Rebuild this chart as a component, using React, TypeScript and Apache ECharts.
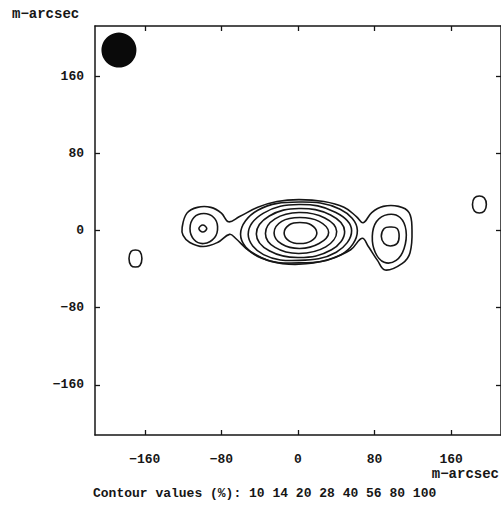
import React, { useEffect, useRef } from "react";
import * as echarts from "echarts";

type P = [number, number];

const xTickValues = [-160, -80, 0, 80, 160];
const yTickValues = [-160, -80, 0, 80, 160];
const contourLevels = [10, 14, 20, 28, 40, 56, 80, 100];

// 10% contour enclosing all three components (closed polygon)
const outer10: P[] = [
  [-121, 3], [-116, 18], [-105, 24], [-91, 24], [-80, 18], [-72.5, 9], [-61, 14.5], [-42, 24],
  [-22, 30], [1, 32], [27, 30], [48, 24], [61, 14.5], [68, 8], [77, 18.6], [89, 25],
  [105, 25], [116, 18.6], [119, 2], [117, -23], [109, -34], [91, -41], [83, -31], [73.5, -16.6],
  [67, -8], [55, -20], [32, -30], [1, -35], [-28, -32], [-51, -21], [-65, -8.3], [-71.5, -4],
  [-84, -12.4], [-99, -16.6], [-113, -12.4], [-120, -5],
];

// central component rings
const core14: P[] = [[-60, -4], [-42, 21], [1, 29.5], [44, 22], [62, 0], [45, -25], [1, -33.6], [-42, -27]];
const core20: P[] = [[-52, -4], [-36, 18], [1, 27], [39, 19], [56, 0], [40, -22.5], [1, -31], [-36, -25]];
const core28: P[] = [[-43.5, -3.5], [-30, 15], [1, 22.8], [34, 16], [48.7, -1], [35, -20], [1, -28], [-30, -21]];
const core40: P[] = [[-34, -3], [-24, 12], [1, 18.6], [28, 13], [40.4, -1], [29, -17], [1, -23.8], [-24, -17.5]];
const core56: P[] = [[-25, -2.5], [-17, 9.5], [2, 13.5], [22, 9.5], [32, -2], [22, -13.5], [2, -18.6], [-17, -14]];
const core80: P[] = [[-14.5, -2.5], [-9, 6], [2, 8.3], [13.5, 6], [19.7, -2.5], [13.5, -11], [2, -13.5], [-9, -11]];

// eastern component rings
const east14: P[] = [[77.6, -6], [82, 9.3], [94, 16.6], [106.6, 13.5], [112.8, 0], [110.8, -18.6], [102.5, -31], [90, -33], [80.7, -22.8]];
const east20: P[] = [[87, -6], [90, 2.1], [96.3, 3.6], [103.5, 2.1], [105.6, -6], [103.5, -13.5], [96.3, -16], [90, -13.5]];

// western component rings
const west14: P[] = [[-112.8, 2], [-108.7, 13.5], [-98.3, 17.6], [-88, 13.5], [-84, 4], [-87, -7.2], [-98.3, -13.5], [-108.7, -9.3]];
const west20: P[] = [[-103.5, 2], [-99.4, 5.7], [-95.3, 2], [-99.4, -1.6]];

// isolated 10% islands
const islandSW: P[] = [[-176.5, -29], [-174.4, -21.7], [-169.8, -20.2], [-165.1, -21.7], [-163, -29], [-165.1, -36.2], [-169.8, -37.8], [-174.4, -36.2]];
const islandE: P[] = [[182.2, 27], [184.2, 33.6], [189.4, 35.7], [194.6, 33.6], [196.7, 27], [194.6, 20.2], [189.4, 18.1], [184.2, 20.2]];

// restoring beam
const beamCenter: P[] = [[-187, 187]];

const contours: P[][] = [
  outer10, core14, core20, core28, core40, core56, core80,
  east14, east20, west14, west20, islandSW, islandE,
];

const FONT = "Liberation Mono";
const INK = "#161616";

export default function App() {
  const ref = useRef<HTMLDivElement>(null);
  useEffect(() => {
    if (!ref.current) return;
    const chart = echarts.init(ref.current, null, { renderer: "svg" });
    const axisCommon = {
      type: "value" as const,
      min: -212,
      max: 212,
      splitLine: { show: false },
      axisLine: { show: true, onZero: false, lineStyle: { color: INK, width: 1.5 } },
    };
    const fmt = (v: number) => (v < 0 ? "\u2212" + Math.abs(v) : String(v));
    chart.setOption({
      animation: false,
      backgroundColor: "#ffffff",
      grid: { left: 95, top: 26, width: 409, height: 409, containLabel: false },
      xAxis: [
        {
          ...axisCommon,
          position: "bottom",
          axisTick: { show: true, inside: true, length: 5, customValues: xTickValues, lineStyle: { color: INK, width: 1.3 } },
          axisLabel: { show: true, customValues: xTickValues, margin: 18, color: INK, fontFamily: FONT, fontSize: 13, fontWeight: "bold", formatter: fmt },
        },
        {
          ...axisCommon,
          position: "top",
          axisTick: { show: true, inside: true, length: 5, customValues: xTickValues, lineStyle: { color: INK, width: 1.3 } },
          axisLabel: { show: false },
        },
      ],
      yAxis: [
        {
          ...axisCommon,
          position: "left",
          axisTick: { show: true, inside: true, length: 5, customValues: yTickValues, lineStyle: { color: INK, width: 1.3 } },
          axisLabel: { show: true, customValues: yTickValues, margin: 11, color: INK, fontFamily: FONT, fontSize: 13, fontWeight: "bold", formatter: fmt },
        },
        {
          ...axisCommon,
          position: "right",
          axisTick: { show: true, inside: true, length: 5, customValues: yTickValues, lineStyle: { color: INK, width: 1.3 } },
          axisLabel: { show: false },
        },
      ],
      series: [
        ...contours.map((c) => ({
          type: "custom",
          coordinateSystem: "cartesian2d",
          xAxisIndex: 0,
          yAxisIndex: 0,
          silent: true,
          data: [c[0]],
          renderItem: (_params: any, api: any) => ({
            type: "polygon",
            shape: { points: c.map((p) => api.coord(p)), smooth: 0.4 },
            style: { fill: "none", stroke: INK, lineWidth: 1.6 },
          }),
        })),
        {
          type: "scatter",
          data: beamCenter,
          symbol: "circle",
          symbolSize: 35,
          silent: true,
          itemStyle: { color: "#0a0a0a", opacity: 1 },
        },
      ],
      graphic: [
        { type: "text", left: 12, top: 7, style: { text: "m\u2212arcsec", fill: INK, font: `bold 14px "${FONT}"` } },
        { type: "text", right: 2, top: 467, style: { text: "m\u2212arcsec", fill: INK, font: `bold 14px "${FONT}"` } },
        { type: "text", left: 93, top: 487, style: { text: "Contour values (%): " + contourLevels.join(" "), fill: INK, font: `bold 13px "${FONT}"` } },
      ],
    });
    return () => chart.dispose();
  }, []);
  return (
    <div
      ref={ref}
      style={{ position: "absolute", left: 0, top: 0, width: 501, height: 505, background: "#fff" }}
    />
  );
}
